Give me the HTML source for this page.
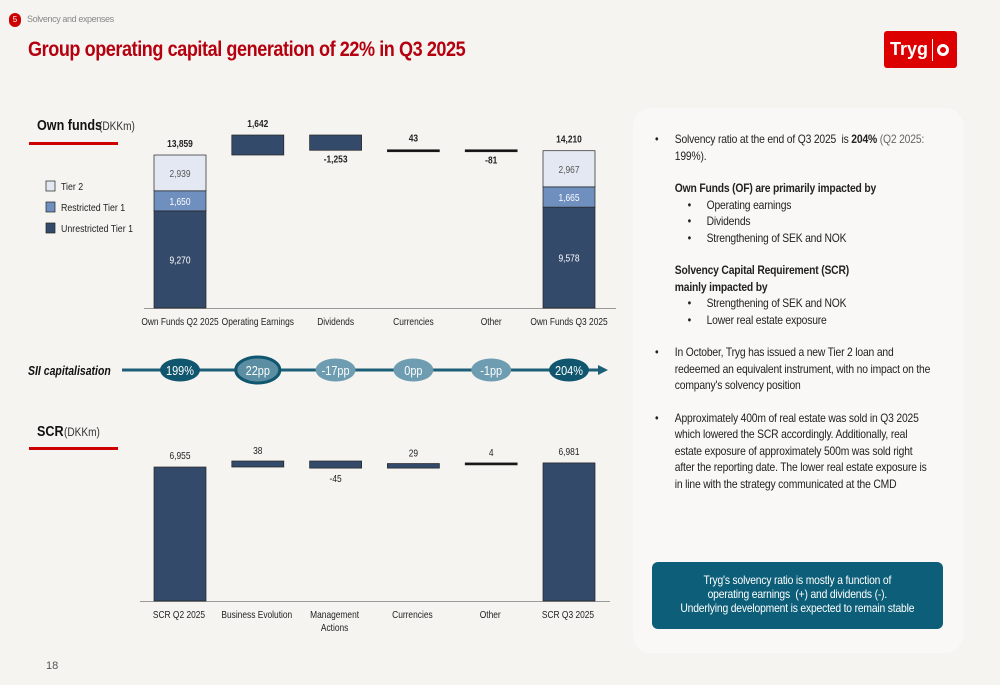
<!DOCTYPE html>
<html><head><meta charset="utf-8"><style>
body{margin:0;width:1000px;height:685px;overflow:hidden;background:#f5f4f0;font-family:"Liberation Sans",sans-serif;}
.abs{position:absolute}
#panel{left:633px;top:108px;width:330px;height:545px;background:#f9f8f6;border-radius:18px}
.t{font-size:12px;color:#222;letter-spacing:-0.2px;line-height:16.5px;transform:scaleX(0.86);transform-origin:0 0}
.b{font-weight:bold}
.li{position:relative;padding-left:23px}
.li::before{content:"•";position:absolute;left:0}
.sub{position:relative;padding-left:60px}
.sub::before{content:"•";position:absolute;left:38px}
</style></head><body>
<div class="abs" style="left:9px;top:13px;width:12px;height:14px;border-radius:7px;background:#c00;color:#fff;font-size:8px;text-align:center;line-height:14px">5</div>
<div class="abs" style="left:27px;top:14px;font-size:9px;color:#888;letter-spacing:-0.4px">Solvency and expenses</div>
<div class="abs" style="left:28px;top:38px;font-size:21px;font-weight:bold;color:#b5000f;letter-spacing:-0.5px;white-space:nowrap;transform:scaleX(0.86);transform-origin:0 0">Group operating capital generation of 22% in Q3 2025</div>
<div class="abs" style="left:884px;top:31px;width:73px;height:37px;background:#d00;border-radius:3px;color:#fff;font-weight:bold;font-size:18px;line-height:37px;padding-left:6px;box-sizing:border-box">Tryg<span style="display:inline-block;width:1px;height:22px;background:#fff;margin:0 4px;vertical-align:middle"></span><span style="display:inline-block;width:12px;height:12px;border:3px solid #fff;border-radius:50%;vertical-align:middle;box-sizing:border-box"></span></div>
<div class="abs" style="left:46px;top:660px;font-size:11px;color:#555">18</div>

<div id="panel" class="abs"></div>
<div class="abs t" style="left:655px;top:131px;width:322px">
<div class="li">Solvency ratio at the end of Q3 2025&nbsp; is <b>204%</b> <span style="color:#666">(Q2 2025:</span> 199%).</div>
<div style="padding-left:23px;margin-top:16px" class="b">Own Funds (OF) are primarily impacted by</div>
<div class="sub">Operating earnings</div><div class="sub">Dividends</div><div class="sub">Strengthening of SEK and NOK</div>
<div style="padding-left:23px;margin-top:16px" class="b">Solvency Capital Requirement (SCR)<br>mainly impacted by</div>
<div class="sub">Strengthening of SEK and NOK</div><div class="sub">Lower real estate exposure</div>
<div class="li" style="margin-top:16px">In October, Tryg has issued a new Tier 2 loan and redeemed an equivalent instrument, with no impact on the company's solvency position</div>
<div class="li" style="margin-top:16px">Approximately 400m of real estate was sold in Q3 2025 which lowered the SCR accordingly. Additionally, real estate exposure of approximately 500m was sold right after the reporting date. The lower real estate exposure is in line with the strategy communicated at the CMD</div>
</div>
<div class="abs" style="left:652px;top:562px;width:291px;height:67px;background:#0d5e78;border-radius:6px;"></div>
<div class="abs" style="left:652px;top:573px;width:338px;color:#fff;font-size:12px;letter-spacing:-0.2px;text-align:center;line-height:14px;transform:scaleX(0.86);transform-origin:0 0">Tryg's solvency ratio is mostly a function of<br>operating earnings&nbsp; (+) and dividends (-).<br>Underlying development is expected to remain stable</div>

<svg class="abs" style="left:0;top:0" width="640" height="685" id="chart" font-family="Liberation Sans, sans-serif"></svg>
<script>
const ofCats=["Own Funds Q2 2025","Operating Earnings","Dividends","Currencies","Other","Own Funds Q3 2025"];
const ofUnrestricted=[9270,9578];
const ofRestricted=[1650,1665];
const ofTier2=[2939,2967];
const ofTotals=[13859,14210];
const ofDeltas=[1642,-1253,43,-81];
const sii=["199%","22pp","-17pp","0pp","-1pp","204%"];
const scrCats=["SCR Q2 2025","Business Evolution","Management|Actions","Currencies","Other","SCR Q3 2025"];
const scrTotals=[6955,6981];
const scrDeltas=[38,-45,29,4];

const svg=document.getElementById('chart');
const NS="http://www.w3.org/2000/svg";
function mk(tag,attrs,name,txt){const e=document.createElementNS(NS,tag);for(const k in attrs)e.setAttribute(k,attrs[k]);


if(txt!==undefined)e.textContent=txt;svg.appendChild(e);return e;}
const xc=i=>180+i*77.8, bw=52;
const yOF=v=>308-(v-1298)*0.01218;
const dOF=v=>v*0.01218;
const dark="#344a6a",mid="#6f8fbf",light="#e3e8f2";
function lbl(x,y,t,name,opts={}){const e=mk('text',Object.assign({x:0,y:0,'text-anchor':'middle','font-size':10,fill:'#222'},opts),name,t);
 e.setAttribute('transform','translate('+x+','+y+') scale(0.84,1)');return e;}
function ltxt(x,y,t,name,opts={}){const e=mk('text',Object.assign({x:0,y:0,fill:'#222'},opts),name,t);
 e.setAttribute('transform','translate('+x+','+y+') scale(0.84,1)');return e;}
ltxt(37,130,"Own funds",'own-funds-title',{'font-size':15,'font-weight':'bold',fill:'#111'});
ltxt(99,130,"(DKKm)",'own-funds-unit',{'font-size':12,fill:'#333'});
mk('rect',{x:29,y:142,width:89,height:3,fill:'#c00'},'own-funds-underline');
ltxt(37,436,"SCR",'scr-title',{'font-size':15,'font-weight':'bold',fill:'#111'});
ltxt(64,436,"(DKKm)",'scr-unit',{'font-size':12,fill:'#333'});
mk('rect',{x:29,y:447,width:89,height:3,fill:'#c00'},'scr-underline');
[["Tier 2",light],["Restricted Tier 1",mid],["Unrestricted Tier 1",dark]].forEach((l,i)=>{
 mk('rect',{x:46,y:181+i*21,width:9,height:10,fill:l[1],stroke:'#222','stroke-width':0.7},'legend-swatch');
 ltxt(61,190+i*21,l[0],'legend-entry',{'font-size':10.5});});
mk('line',{x1:144,x2:616,y1:308.5,y2:308.5,stroke:'#999','stroke-width':1},'own-funds-x-axis');
ofCats.forEach((c,i)=>lbl(xc(i),325,c,'own-funds-category-label'));
[0,1].forEach(j=>{const i=j?5:0;const x=xc(i)-bw/2;
 const y0=308,y3=yOF(ofTotals[j]);
 const ut=y3+dOF(ofTier2[j])+dOF(ofRestricted[j]);
 const rt=y3+dOF(ofTier2[j]);
 mk('rect',{x:x,y:ut,width:bw,height:y0-ut,fill:dark,stroke:'#222','stroke-width':0.7},'unrestricted-tier1-bar');
 mk('rect',{x:x,y:rt,width:bw,height:ut-rt,fill:mid,stroke:'#222','stroke-width':0.7},'restricted-tier1-bar');
 mk('rect',{x:x,y:y3,width:bw,height:rt-y3,fill:light,stroke:'#222','stroke-width':0.7},'tier2-bar');
 lbl(xc(i),(y0+ut)/2+4,ofUnrestricted[j].toLocaleString('en-US'),'unrestricted-value',{fill:'#fff'});
 lbl(xc(i),(ut+rt)/2+4,ofRestricted[j].toLocaleString('en-US'),'restricted-value',{fill:'#fff'});
 lbl(xc(i),(rt+y3)/2+4,ofTier2[j].toLocaleString('en-US'),'tier2-value',{fill:'#555'});
 lbl(xc(i),y3-8,ofTotals[j].toLocaleString('en-US'),'total-value',{'font-weight':'bold'});
});
let run=ofTotals[0];
ofDeltas.forEach((d,k)=>{const i=k+1;const a=yOF(run),b=yOF(run+d);const top=Math.min(a,b),h=Math.max(Math.abs(a-b),2);
 mk('rect',{x:xc(i)-bw/2,y:top,width:bw,height:h,fill:Math.abs(a-b)<2?'#111':dark,stroke:'#222','stroke-width':0.7},'own-funds-delta-bar');
 const t=(d>0?'':'-')+Math.abs(d).toLocaleString('en-US');
 lbl(xc(i),d>0?top-8:top+h+12,t,'own-funds-delta-value',{'font-weight':'bold'});
 run+=d;});
ltxt(28,375,"SII capitalisation",'sii-label',{'font-size':12.5,'font-weight':'bold','font-style':'italic',fill:'#111'});
mk('line',{x1:122,x2:600,y1:370,y2:370,stroke:'#1d5f77','stroke-width':3},'sii-arrow-line');
mk('polygon',{points:'598,365 608,370 598,375',fill:'#1d5f77'},'sii-arrow-head');
sii.forEach((s,i)=>{const end=i==0||i==5;
 mk('ellipse',{cx:xc(i),cy:370,rx:i==1?22:20,ry:i==1?13:11.5,fill:end?'#10566e':(i==1?'#5b8ea3':'#6e9db1'),stroke:i==1?'#10566e':'none','stroke-width':3},'sii-bubble');
 lbl(xc(i),375,s,'sii-value',{fill:'#fff','font-size':13});});
const ySCR=v=>601-(v-6107)*0.158;
mk('line',{x1:140,x2:610,y1:601.5,y2:601.5,stroke:'#999','stroke-width':1},'scr-x-axis');
scrCats.forEach((c,i)=>{c.split('|').forEach((p,r)=>lbl(xc(i)-1,618+r*13,p,'scr-category-label'));});
[0,1].forEach(j=>{const i=j?5:0;const y=ySCR(scrTotals[j]);
 mk('rect',{x:xc(i)-bw/2,y:y,width:bw,height:601-y,fill:dark,stroke:'#222','stroke-width':0.7},'scr-total-bar');
 lbl(xc(i),y-8,scrTotals[j].toLocaleString('en-US'),'scr-total-value');});
let r2=scrTotals[0];
scrDeltas.forEach((d,k)=>{const i=k+1;const a=ySCR(r2),b=ySCR(r2+d);const top=Math.min(a,b),h=Math.max(Math.abs(a-b),2);
 mk('rect',{x:xc(i)-bw/2,y:top,width:bw,height:h,fill:Math.abs(a-b)<2?'#111':dark,stroke:'#222','stroke-width':0.7},'scr-delta-bar');
 lbl(xc(i),d>0?top-7:top+h+14,String(d),'scr-delta-value');
 r2+=d;});
</script>
</body></html>
